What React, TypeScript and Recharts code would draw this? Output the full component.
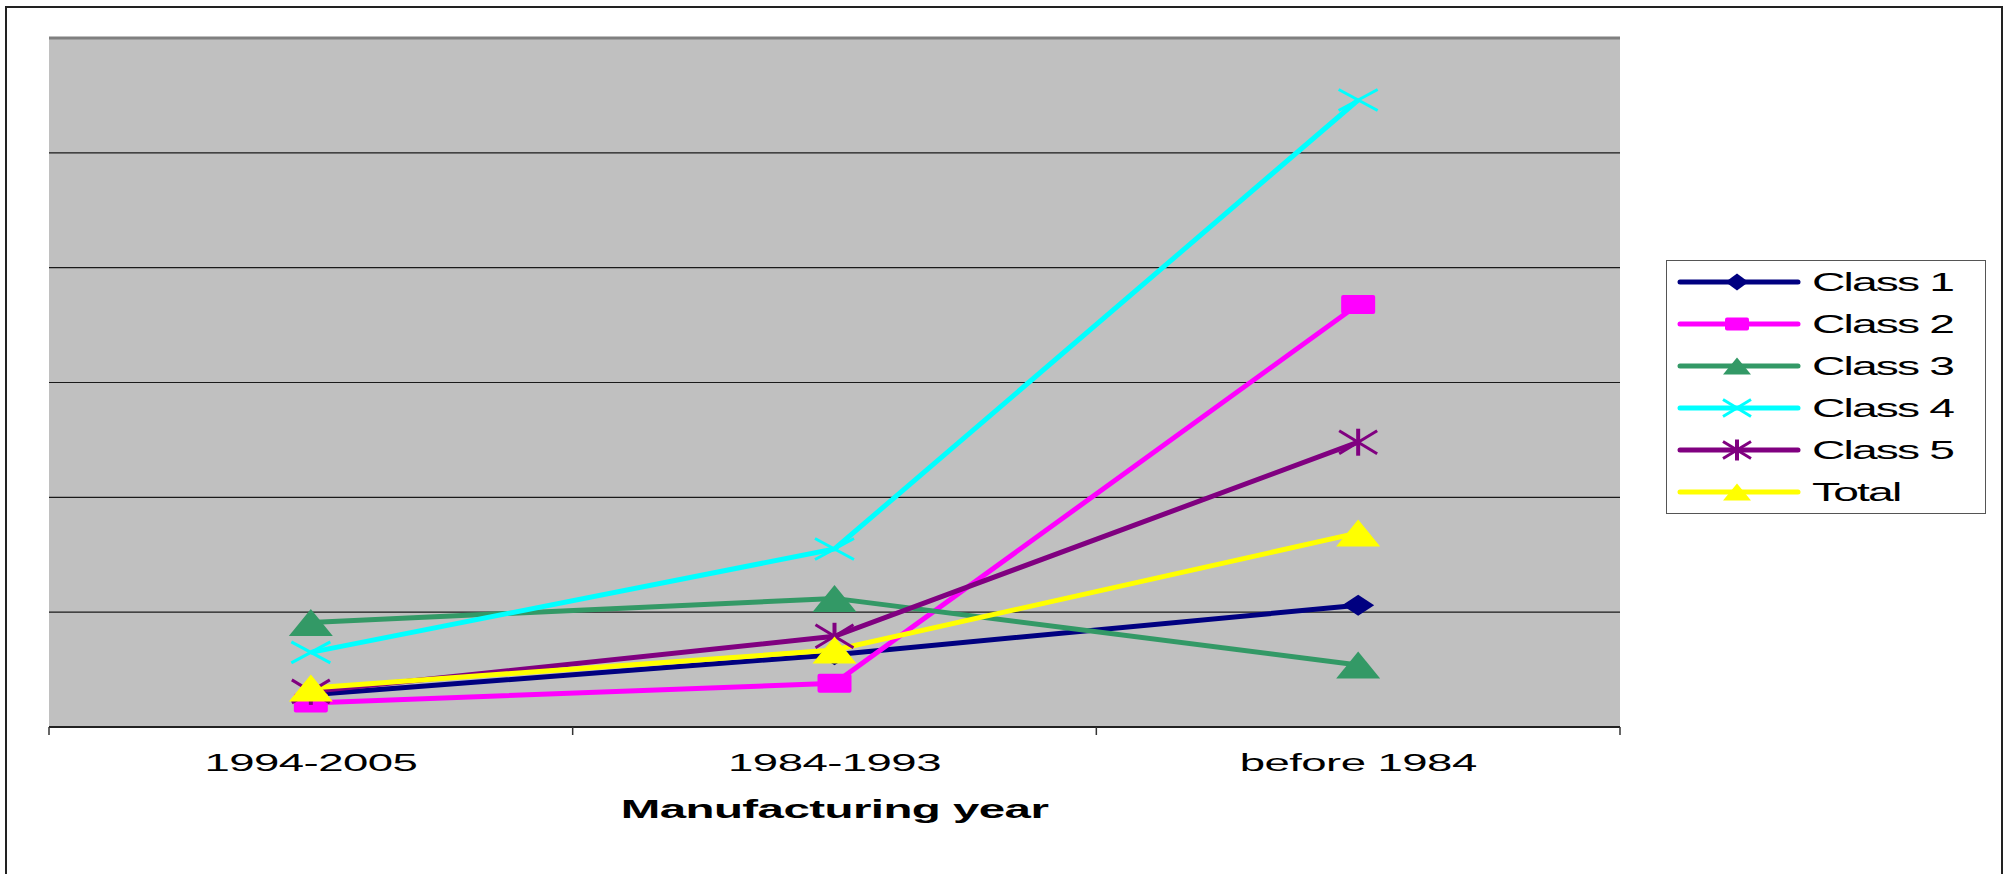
import React from 'react'
import {
  CartesianGrid,
  Legend,
  Line,
  LineChart,
  ReferenceLine,
  XAxis,
  YAxis
} from 'recharts'

// manufacturing year groups
const categories = ['1994-2005', '1984-1993', 'before 1984']

const class1 = [2.8, 6.3, 10.6]
const class2 = [2.1, 3.8, 36.8]
const class3 = [9.1, 11.2, 5.4]
const class4 = [6.5, 15.5, 54.6]
const class5 = [3.1, 7.9, 24.8]
const total = [3.4, 6.7, 16.9]

const yTicks = [0, 10, 20, 30, 40, 50, 60]

type Shape = 'diamond' | 'square' | 'triangle' | 'x' | 'star'

const series: { key: string; name: string; color: string; shape: Shape; values: number[] }[] = [
  { key: 'c1', name: 'Class 1', color: '#000080', shape: 'diamond', values: class1 },
  { key: 'c2', name: 'Class 2', color: '#FF00FF', shape: 'square', values: class2 },
  { key: 'c3', name: 'Class 3', color: '#339966', shape: 'triangle', values: class3 },
  { key: 'c4', name: 'Class 4', color: '#00FFFF', shape: 'x', values: class4 },
  { key: 'c5', name: 'Class 5', color: '#800080', shape: 'star', values: class5 },
  { key: 'total', name: 'Total', color: '#FFFF00', shape: 'triangle', values: total }
]

const data = categories.map((year, i) => {
  const row: Record<string, string | number> = { year }
  series.forEach((s) => {
    row[s.key] = s.values[i]
  })
  return row
})

const W = 2008
const H = 874
const MARGIN = { top: 38, right: 388, bottom: 0, left: 49 }
const X_AXIS_H = 147
const PLOT_W = W - MARGIN.left - MARGIN.right
const FONT = '"Liberation Sans", Arial, sans-serif'
const STRETCH = 1.9

// marker sizes (w, h) on the plot and in the legend
const PLOT_SIZE: Record<Shape, [number, number]> = {
  diamond: [32, 21],
  square: [34, 19],
  triangle: [44, 27],
  x: [39, 21],
  star: [38, 23]
}
const LEGEND_SIZE: Record<Shape, [number, number]> = {
  diamond: [23, 17],
  square: [24, 13],
  triangle: [28, 17],
  x: [28, 17],
  star: [28, 17]
}

function Marker({ shape, cx, cy, w, h, color }: { shape: Shape; cx: number; cy: number; w: number; h: number; color: string }) {
  const l = cx - w / 2
  const r = cx + w / 2
  const t = cy - h / 2
  const b = cy + h / 2
  switch (shape) {
    case 'diamond':
      return <polygon points={`${l},${cy} ${cx},${t} ${r},${cy} ${cx},${b}`} fill={color} />
    case 'square':
      return <rect x={l} y={t} width={w} height={h} rx={2} fill={color} />
    case 'triangle':
      return <polygon points={`${l},${b} ${cx},${t} ${r},${b}`} fill={color} />
    case 'x':
      return (
        <g stroke={color} strokeWidth={3}>
          <line x1={l} y1={t} x2={r} y2={b} />
          <line x1={l} y1={b} x2={r} y2={t} />
        </g>
      )
    case 'star':
      return (
        <g stroke={color} strokeWidth={3}>
          <line x1={l} y1={t} x2={r} y2={b} />
          <line x1={l} y1={b} x2={r} y2={t} />
          <line x1={cx} y1={t - 2} x2={cx} y2={b + 2} strokeWidth={4} />
        </g>
      )
  }
}

function makeDot(shape: Shape, color: string, name: string) {
  return (props: any) => {
    const { cx, cy, index } = props
    if (cx == null || cy == null) return <g key={`${name}-${index}`} />
    const [w, h] = PLOT_SIZE[shape]
    return (
      <g key={`${name}-${index}`}>
        <Marker shape={shape} cx={cx} cy={cy} w={w} h={h} color={color} />
      </g>
    )
  }
}

// category label plus tick marks on the band edges
function YearTick(props: any) {
  const { x, y, payload, index } = props
  const band = PLOT_W / categories.length
  const left = x - band / 2
  return (
    <g>
      <line x1={left} y1={y} x2={left} y2={y + 8} stroke="#333" strokeWidth={1.5} />
      {index === categories.length - 1 && (
        <line x1={left + band} y1={y} x2={left + band} y2={y + 8} stroke="#333" strokeWidth={1.5} />
      )}
      <text
        transform={`translate(${x},${y + 44}) scale(${STRETCH},1)`}
        textAnchor="middle"
        fontFamily={FONT}
        fontSize={24}
        letterSpacing={-0.3}
        fill="#000"
      >
        {payload.value}
      </text>
    </g>
  )
}

function AxisTitle(props: any) {
  const { viewBox } = props
  if (!viewBox) return null
  const cx = viewBox.x + viewBox.width / 2
  return (
    <text
      transform={`translate(${cx},${viewBox.y + 91}) scale(${STRETCH},1)`}
      textAnchor="middle"
      fontFamily={FONT}
      fontSize={25}
      fontWeight="bold"
      letterSpacing={-0.3}
      fill="#000"
    >
      Manufacturing year
    </text>
  )
}

function LegendBox() {
  return (
    <svg width={320} height={254} style={{ display: 'block' }}>
      <rect x={0.5} y={0.5} width={319} height={253} fill="#fff" stroke="#555" strokeWidth={1} />
      {series.map((s, i) => {
        const cy = 22 + i * 42
        const [w, h] = LEGEND_SIZE[s.shape]
        return (
          <g key={s.key}>
            <line x1={14} y1={cy} x2={132} y2={cy} stroke={s.color} strokeWidth={5} strokeLinecap="round" />
            <Marker shape={s.shape} cx={71} cy={cy} w={w} h={h} color={s.color} />
            <text
              transform={`translate(146,${cy + 9}) scale(1.85,1)`}
              fontFamily={FONT}
              fontSize={25}
              letterSpacing={-1}
              fill="#000"
            >
              {s.name}
            </text>
          </g>
        )
      })}
    </svg>
  )
}

export default function App() {
  return (
    <div
      style={{
        position: 'absolute',
        left: 0,
        top: 0,
        width: W,
        height: H,
        overflow: 'hidden',
        background: '#fff'
      }}
    >
      <div
        style={{
          position: 'absolute',
          left: 5,
          top: 6,
          width: 1994,
          height: 900,
          border: '2px solid #222'
        }}
      />
      <div style={{ position: 'absolute', left: 0, top: 0 }}>
        <LineChart width={W} height={H} data={data} margin={MARGIN}>
          <CartesianGrid
            yAxisId="left"
            vertical={false}
            horizontal={false}
            fill="#C0C0C0"
            fillOpacity={1}
          />
          <XAxis
            dataKey="year"
            scale="band"
            height={X_AXIS_H}
            axisLine={{ stroke: '#222', strokeWidth: 2 }}
            tickLine={false}
            tickSize={0}
            tickMargin={0}
            tick={<YearTick />}
            interval={0}
            label={<AxisTitle />}
          />
          <YAxis
            yAxisId="left"
            width={0}
            domain={[0, 60]}
            ticks={yTicks}
            tick={false}
            tickLine={false}
            axisLine={{ stroke: '#808080', strokeWidth: 3 }}
          />
          <YAxis
            yAxisId="right"
            orientation="right"
            width={0}
            domain={[0, 60]}
            ticks={yTicks}
            tick={false}
            tickLine={false}
            axisLine={{ stroke: '#808080', strokeWidth: 3 }}
          />
          {yTicks.slice(1, -1).map((v) => (
            <ReferenceLine key={v} yAxisId="left" y={v} stroke="#1a1a1a" strokeWidth={1.2} />
          ))}
          <ReferenceLine yAxisId="left" y={60} stroke="#808080" strokeWidth={3} />
          <Legend
            layout="vertical"
            align="center"
            verticalAlign="middle"
            content={<LegendBox />}
            wrapperStyle={{ position: 'absolute', left: 1666, top: 260, width: 320, height: 254 }}
          />
          {series.map((s) => (
            <Line
              key={s.key}
              yAxisId="left"
              type="linear"
              dataKey={s.key}
              name={s.name}
              stroke={s.color}
              strokeWidth={5}
              dot={makeDot(s.shape, s.color, s.key)}
              activeDot={false}
              isAnimationActive={false}
            />
          ))}
        </LineChart>
      </div>
    </div>
  )
}
